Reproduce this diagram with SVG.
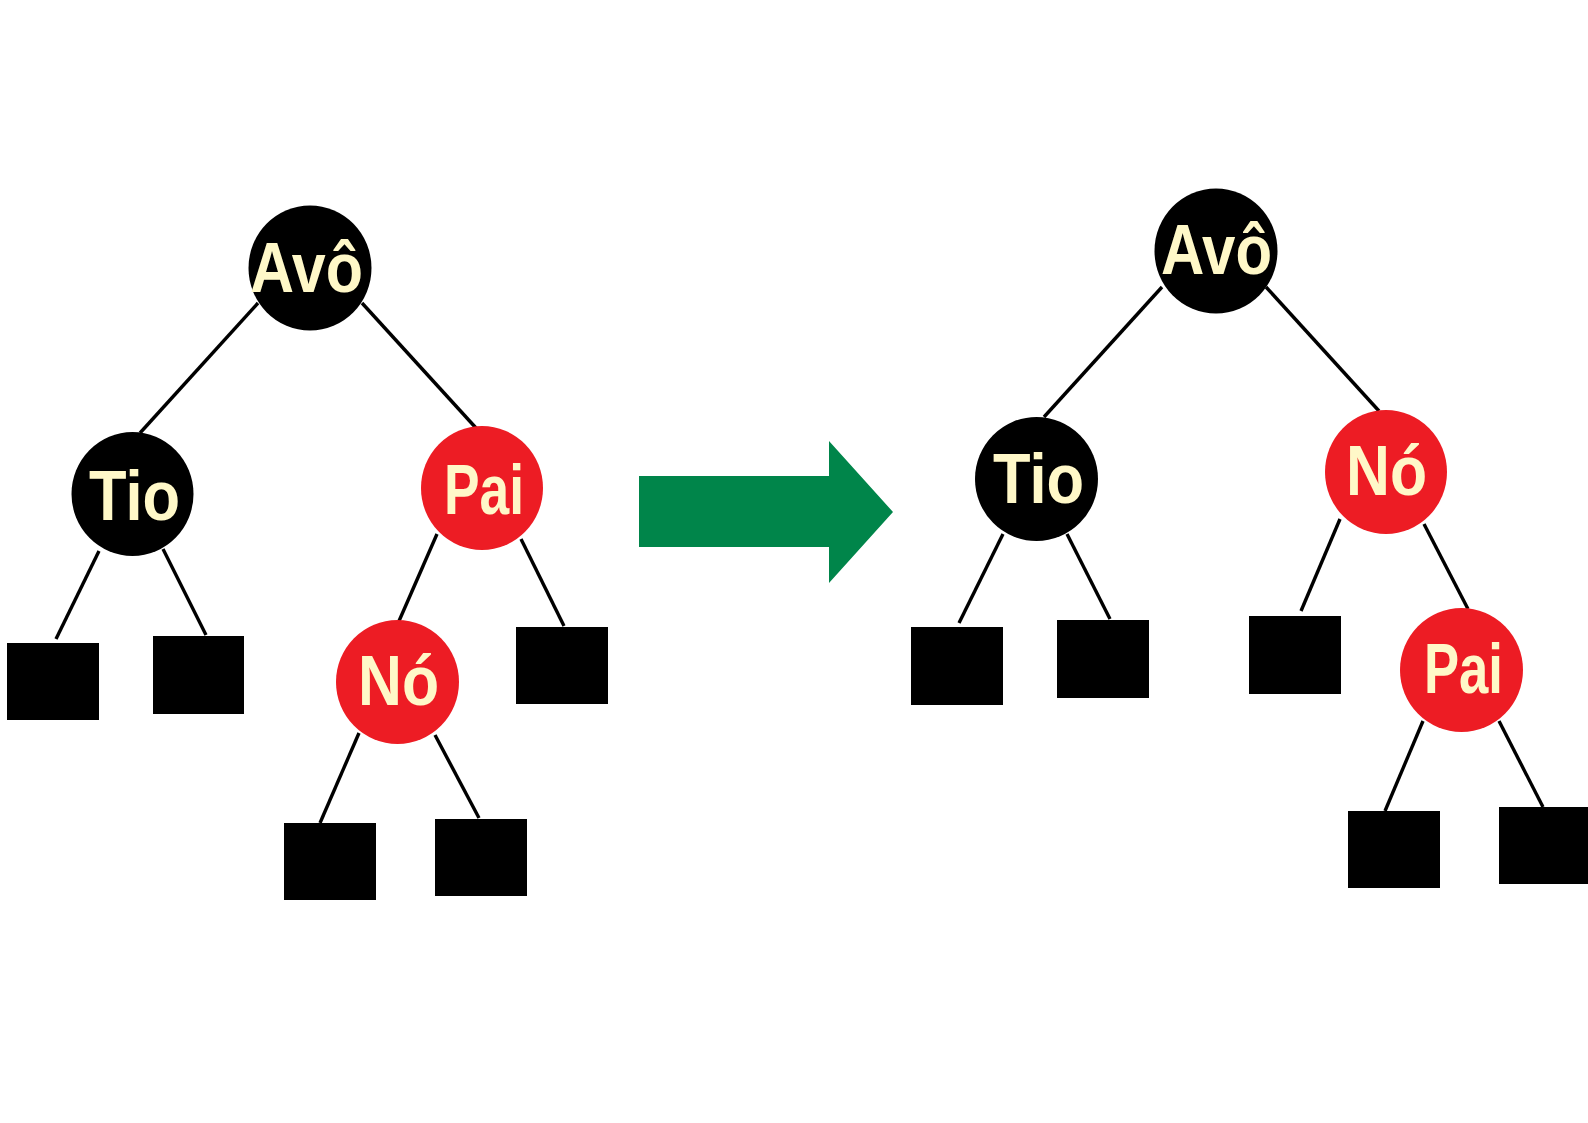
<svg xmlns="http://www.w3.org/2000/svg" width="1588" height="1123" viewBox="0 0 1588 1123">
<style>
.blk{fill:#000}
.red{fill:#ED1C24}
.leaf{fill:#000}
.lbl{font-family:"Liberation Sans","DejaVu Sans",sans-serif;font-weight:bold;font-size:70px;fill:#FFF8C8}
.edge{stroke:#000;stroke-width:3.4;fill:none}
</style>
<rect width="1588" height="1123" fill="#fff"/>
<g id="connectors">
<line class="edge" x1="258" y1="303" x2="140" y2="433"/>
<line class="edge" x1="362" y1="303" x2="476" y2="428"/>
<line class="edge" x1="99" y1="551" x2="56" y2="639"/>
<line class="edge" x1="163" y1="549" x2="206" y2="635"/>
<line class="edge" x1="437" y1="534" x2="399" y2="621"/>
<line class="edge" x1="521" y1="539" x2="564" y2="626"/>
<line class="edge" x1="359" y1="733" x2="320" y2="823"/>
<line class="edge" x1="435" y1="735" x2="479" y2="818"/>
<line class="edge" x1="1162" y1="287" x2="1044" y2="417"/>
<line class="edge" x1="1266" y1="287" x2="1379" y2="411"/>
<line class="edge" x1="1003" y1="534" x2="959" y2="623"/>
<line class="edge" x1="1067" y1="534" x2="1110" y2="619"/>
<line class="edge" x1="1340" y1="519" x2="1301" y2="611"/>
<line class="edge" x1="1424" y1="524" x2="1468" y2="609"/>
<line class="edge" x1="1423" y1="721" x2="1385" y2="811"/>
<line class="edge" x1="1499" y1="721" x2="1543" y2="807"/>
</g>
<g id="arrow">
<polygon points="639,476 829,476 829,441 893,512 829,583 829,547 639,547" fill="#00854A"/>
</g>
<g id="L-avo"><ellipse class="blk" cx="310" cy="268" rx="61.5" ry="62.5"/><text class="lbl" x="250" y="292" textLength="113" lengthAdjust="spacingAndGlyphs">Avô</text></g>
<g id="L-tio"><ellipse class="blk" cx="132.5" cy="494" rx="61" ry="62"/><text class="lbl" x="89" y="520" textLength="91" lengthAdjust="spacingAndGlyphs">Tio</text></g>
<g id="L-pai"><ellipse class="red" cx="482" cy="488" rx="61" ry="62"/><text class="lbl" x="444" y="514" textLength="80" lengthAdjust="spacingAndGlyphs">Pai</text></g>
<g id="L-no"><ellipse class="red" cx="397.5" cy="682" rx="61.5" ry="62"/><text class="lbl" x="358" y="705" textLength="81" lengthAdjust="spacingAndGlyphs">Nó</text></g>
<g id="L-leaf1"><rect class="leaf" x="7" y="643" width="92" height="77"/></g>
<g id="L-leaf2"><rect class="leaf" x="153" y="636" width="91" height="78"/></g>
<g id="L-leaf3"><rect class="leaf" x="516" y="627" width="92" height="77"/></g>
<g id="L-leaf4"><rect class="leaf" x="284" y="823" width="92" height="77"/></g>
<g id="L-leaf5"><rect class="leaf" x="435" y="819" width="92" height="77"/></g>
<g id="R-avo"><ellipse class="blk" cx="1216" cy="251" rx="61.5" ry="62.5"/><text class="lbl" x="1161" y="274" textLength="111" lengthAdjust="spacingAndGlyphs">Avô</text></g>
<g id="R-tio"><ellipse class="blk" cx="1036.5" cy="479" rx="61.5" ry="62"/><text class="lbl" x="993" y="503" textLength="91" lengthAdjust="spacingAndGlyphs">Tio</text></g>
<g id="R-no"><ellipse class="red" cx="1386" cy="472" rx="61" ry="62"/><text class="lbl" x="1346" y="495" textLength="81" lengthAdjust="spacingAndGlyphs">Nó</text></g>
<g id="R-pai"><ellipse class="red" cx="1461.5" cy="670" rx="61.5" ry="62"/><text class="lbl" x="1424" y="693" textLength="79" lengthAdjust="spacingAndGlyphs">Pai</text></g>
<g id="R-leaf1"><rect class="leaf" x="911" y="627" width="92" height="78"/></g>
<g id="R-leaf2"><rect class="leaf" x="1057" y="620" width="92" height="78"/></g>
<g id="R-leaf3"><rect class="leaf" x="1249" y="616" width="92" height="78"/></g>
<g id="R-leaf4"><rect class="leaf" x="1348" y="811" width="92" height="77"/></g>
<g id="R-leaf5"><rect class="leaf" x="1499" y="807" width="89" height="77"/></g>
</svg>
